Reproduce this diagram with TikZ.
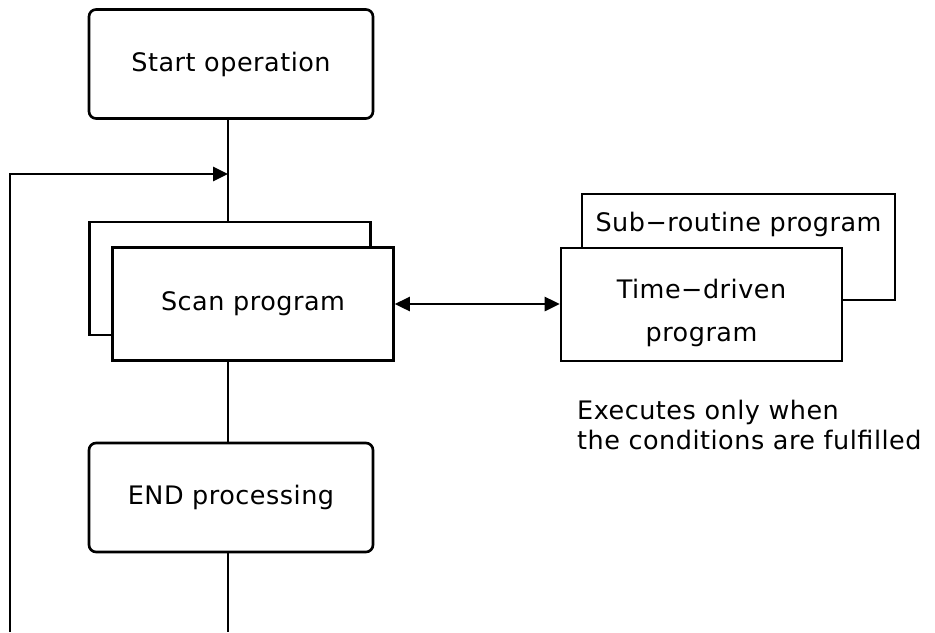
\documentclass[tikz,border=0pt]{standalone}
\usepackage{fontspec}
\setmainfont{DejaVu Sans}[LetterSpace=2]
\usetikzlibrary{positioning,arrows.meta}

\begin{document}
\begin{tikzpicture}[
  x=0.02cm, y=-0.02cm,
  >={Triangle[length=0.3cm,width=0.28cm]},
  every path/.style={line width=1.5pt},
  box/.style={draw,line width=1.5pt,fill=white,font=\fontsize{14.5}{18}\selectfont,align=center},
  flow/.style={box,rounded corners=0.14cm,minimum width=5.68cm,minimum height=2.18cm},
  prog/.style={box,minimum width=5.62cm,minimum height=2.26cm}
]
\useasboundingbox (0,0) rectangle (935,632);
\node[flow] (start) at (231,64) {Start operation};
\node[prog] (scanback) at (230,278.5) {};
\node[prog] (scan) at (253,304) {Scan program};
\node[flow] (endp) at (231,497.5) {END processing};
\node[box,minimum width=6.26cm,minimum height=2.12cm,
  text height=1.5ex,text depth=0.92cm] (sub) at (738.5,247) {Sub−routine program};
\node[prog] (timed) at (701.5,304.5) {\rule{0pt}{2.6ex}Time−driven\\[6pt]program};
\node[font=\fontsize{14.5}{17}\selectfont,align=left,anchor=west] (note) at (570,425)
  {Executes only when\\the conditions are fulfilled};
\coordinate (loopin) at (228,174);
\coordinate (loopbot) at (10,632);
\coordinate (trunkbot) at (228,632);
\draw (start.south -| loopin) -- (scanback.north -| loopin);
\draw (scan.south -| loopin) -- (endp.north -| loopin);
\draw (endp.south -| loopin) -- (trunkbot);
\draw[->] (loopbot) |- (loopin);
\draw[<->] (scan.east) -- (scan.east -| timed.west);
\end{tikzpicture}
\end{document}
